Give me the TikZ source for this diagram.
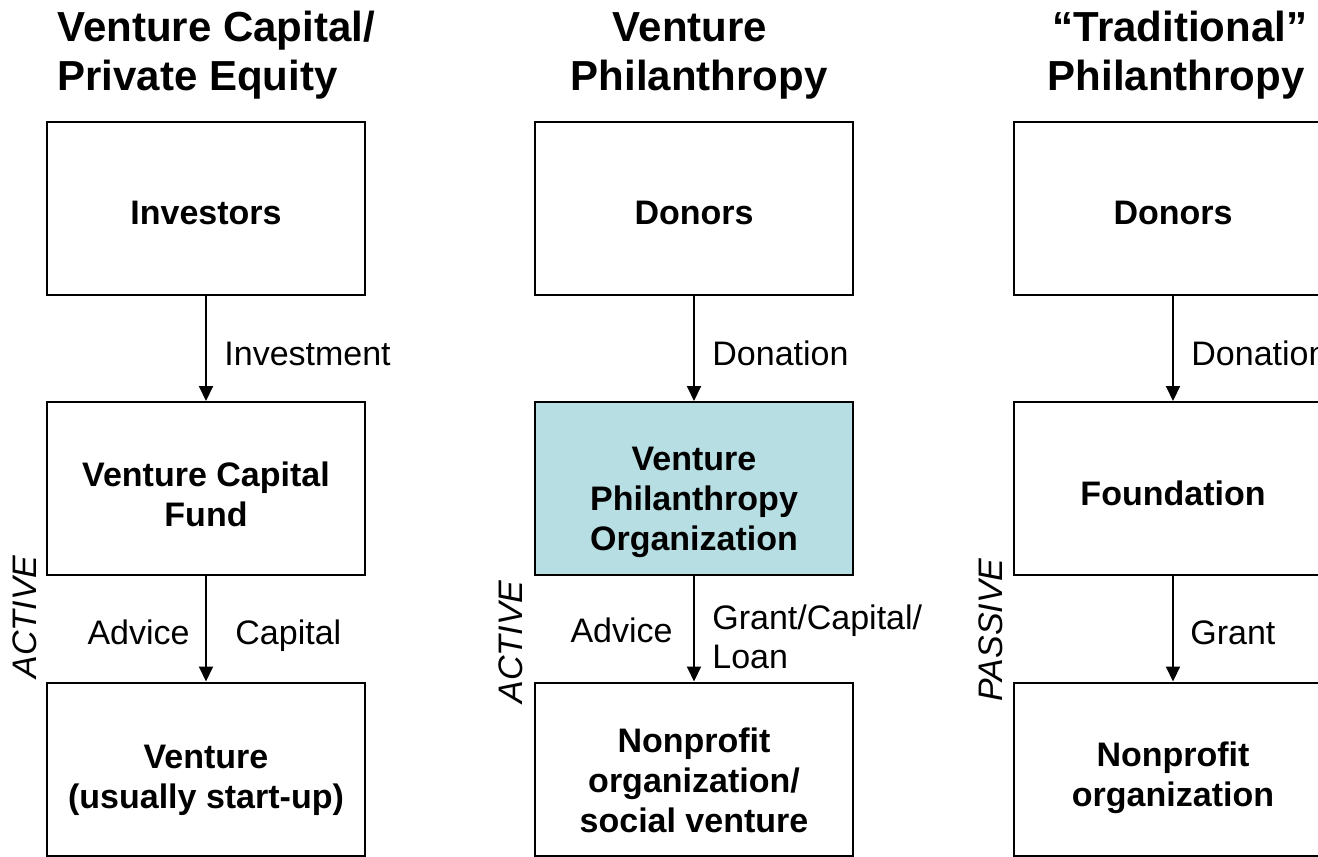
\documentclass[tikz,border=0pt]{standalone}
\usepackage{fontspec}
\setmainfont{Liberation Sans}
\usetikzlibrary{arrows.meta}
\definecolor{vpfill}{RGB}{183,222,226}
\begin{document}
\begin{tikzpicture}[x=0.5pt,y=-0.5pt,
  box/.style={draw,line width=1pt,minimum width=159pt,minimum height=86.5pt,inner sep=0pt},
  boxtxt/.style={inner sep=0pt,align=center,font=\fontsize{17}{20}\selectfont\bfseries},
  flow/.style={-{Triangle[width=7pt,length=7.5pt]},line width=1pt},
  lbl/.style={font=\fontsize{17}{20}\selectfont,inner sep=0pt},
  side/.style={font=\fontsize{17}{20}\selectfont\itshape,rotate=90,inner sep=0pt},
  head/.style={font=\fontsize{21}{25}\selectfont\bfseries,inner sep=0pt}]
\useasboundingbox (0,0) rectangle (1318,857);
\clip (0,0) rectangle (1318,857);

% column headings
\node[head,anchor=base west] (h1a) at (57,41) {Venture Capital/};
\node[head,anchor=base west] (h1b) at (57,90) {Private Equity};
\node[head,anchor=base] (h2a) at (690,41) {Venture};
\node[head,anchor=base] (h2b) at (699,90) {Philanthropy};
\node[head,anchor=base] (h3a) at (1180,41) {“Traditional”};
\node[head,anchor=base] (h3b) at (1176,90) {Philanthropy};

% venture capital / private equity
\node[box] (inv) at (206,208.5) {};
\node[box] (vcf) at (206,488.5) {};
\node[box] (ven) at (206,769) {};
\node[boxtxt] (invt) at ([yshift=-2pt]inv.center) {Investors};
\node[boxtxt] (vcft) at ([yshift=-2.75pt]vcf.center) {Venture Capital\\Fund};
\node[boxtxt] (vent) at ([yshift=-5.5pt]ven.center) {Venture\\(usually start-up)};

% venture philanthropy
\node[box] (don) at (694,208.5) {};
\node[box,fill=vpfill] (vpo) at (694,488.5) {};
\node[box] (npo) at (694,769) {};
\node[boxtxt] (dont) at ([yshift=-2pt]don.center) {Donors};
\node[boxtxt] (vpot) at ([yshift=-7pt]vpo.center) {Venture\\Philanthropy\\Organization};
\node[boxtxt] (npot) at ([yshift=-5.5pt]npo.center) {Nonprofit\\organization/\\social venture};

% traditional philanthropy
\node[box] (don3) at (1173,208.5) {};
\node[box] (fnd) at (1173,488.5) {};
\node[box] (npo3) at (1173,769) {};
\node[boxtxt] (don3t) at ([yshift=-2pt]don3.center) {Donors};
\node[boxtxt] (fndt) at ([yshift=-2.5pt]fnd.center) {Foundation};
\node[boxtxt] (npo3t) at ([yshift=-4.5pt]npo3.center) {Nonprofit\\organization};

% flows
\draw[flow] (inv) -- (vcf);
\draw[flow] (vcf) -- (ven);
\draw[flow] (don) -- (vpo);
\draw[flow] (vpo) -- (npo);
\draw[flow] (don3) -- (fnd);
\draw[flow] (fnd) -- (npo3);

% flow labels
\node[lbl,anchor=base west] (l1) at (224,365) {Investment};
\node[lbl,anchor=base east] (l2) at (190,644) {Advice};
\node[lbl,anchor=base west] (l3) at (235,644) {Capital};
\node[lbl,anchor=base west] (l4) at (712,365) {Donation};
\node[lbl,anchor=base east] (l5) at (673,642) {Advice};
\node[lbl,anchor=base west] (l6) at (712,629) {Grant/Capital/};
\node[lbl,anchor=base west] (l7) at (712,668) {Loan};
\node[lbl,anchor=base west] (l8) at (1191,365) {Donation};
\node[lbl,anchor=base west] (l9) at (1190,644) {Grant};

% involvement
\node[side] (s1) at (25,617) {ACTIVE};
\node[side] (s2) at (511,642) {ACTIVE};
\node[side] (s3) at (991,630) {PASSIVE};
\end{tikzpicture}
\end{document}
